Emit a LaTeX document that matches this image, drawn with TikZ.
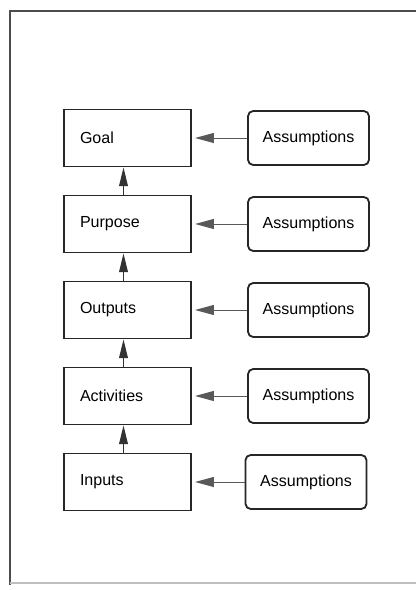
\documentclass[tikz,border=0pt]{standalone}
\usepackage{fontspec}
\setmainfont{Liberation Sans}
\usetikzlibrary{arrows.meta}
\tikzstyle{stage}=[draw=black!85,line width=1.3pt,minimum height=1.425cm,text width=2.375cm,inner xsep=0.4cm,align=left,font=\fontsize{11.4}{13}\selectfont]
\tikzstyle{assumption}=[draw=black!85,line width=1.3pt,rounded corners=0.13cm,minimum height=1.35cm,minimum width=3.025cm,font=\fontsize{11.4}{13}\selectfont]
\tikzstyle{link}=[-{Triangle[length=0.47cm,width=0.25cm]},draw=black!65,line width=0.7pt,shorten >=0.08cm]
\tikzstyle{lift}=[-{Triangle[length=0.47cm,width=0.22cm]},draw=black!80,line width=0.8pt]
\tikzstyle{frame}=[draw=black!70,line width=1.2pt]

\begin{document}
\begin{tikzpicture}
                  \useasboundingbox [fill=white] (0,0) rectangle (10.4,14.75);

                  \draw [frame] (0.25,0.125) -- (0.25,14.5);
                  \draw [frame] (0.25,14.475) -- (10.4,14.475);
                  \draw [frame,draw=black!25] (0.25,0.175) -- (10.4,0.175);

                  \node (goal) at (3.1875,11.3) [stage] {Goal};
                  \node (purpose) at (3.1875,9.15) [stage] {Purpose};
                  \node (outputs) at (3.1875,7.0) [stage] {Outputs};
                  \node (activities) at (3.1875,4.85) [stage] {Activities};
                  \node (inputs) at (3.1875,2.7) [stage] {Inputs};

                  \node (a1) at (7.7125,11.3) [assumption] {Assumptions};
                  \node (a2) at (7.7125,9.15) [assumption] {Assumptions};
                  \node (a3) at (7.7125,7.0) [assumption] {Assumptions};
                  \node (a4) at (7.7125,4.85) [assumption] {Assumptions};
                  \node (a5) at (7.65,2.7) [assumption] {Assumptions};

                  \draw [link] (a1) -- (goal);
                  \draw [link] (a2) -- (purpose);
                  \draw [link] (a3) -- (outputs);
                  \draw [link] (a4) -- (activities);
                  \draw [link] (a5) -- (inputs);

                  \draw [lift] ([xshift=-0.1cm]purpose.north) -- ([xshift=-0.1cm]goal.south);
                  \draw [lift] ([xshift=-0.1cm]outputs.north) -- ([xshift=-0.1cm]purpose.south);
                  \draw [lift] ([xshift=-0.1cm]activities.north) -- ([xshift=-0.1cm]outputs.south);
                  \draw [lift] ([xshift=-0.1cm]inputs.north) -- ([xshift=-0.1cm]activities.south);
              \end{tikzpicture}
\end{document}
